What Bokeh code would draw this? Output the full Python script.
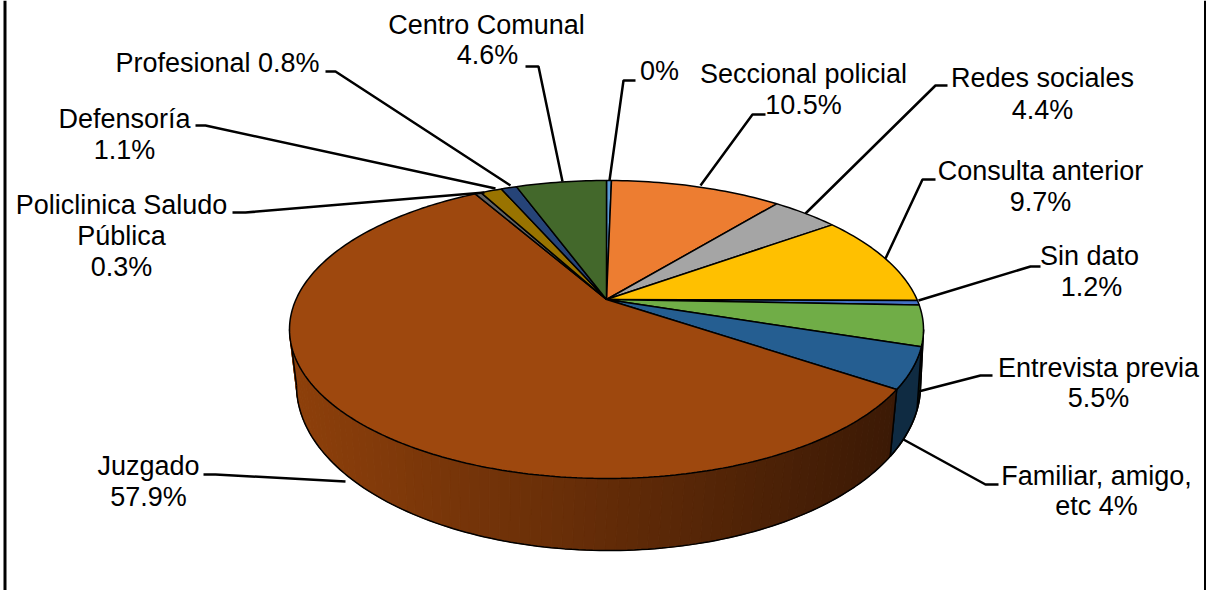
import numpy as np
from bokeh.plotting import figure
from bokeh.models import Range1d, Span
from bokeh.core.properties import value
from bokeh.embed import file_html
from bokeh.resources import INLINE

# --- data ---
categories = ["0%", "Seccional policial", "Redes sociales", "Consulta anterior", "Sin dato",
              "Entrevista previa", "Familiar, amigo, etc", "Juzgado",
              "Policlinica Saludo Pública", "Defensoría", "Profesional", "Centro Comunal"]
values = [0.3, 10.5, 4.4, 9.7, 1.2, 5.5, 4.0, 57.9, 0.3, 1.1, 0.8, 4.6]
colors = ["#5B9BD5", "#ED7D31", "#A5A5A5", "#FFC000", "#4472C4", "#70AD47",
          "#255E91", "#9E480E", "#636363", "#997300", "#264478", "#43682B"]
wall_colors = {5: "#2C451C", 6: "#0F2B42"}

# --- label layout: text, centre x, centre y ---
label_lines = [
    ("Centro Comunal", 486, 24), ("4.6%", 487, 54),
    ("Profesional 0.8%", 217, 62),
    ("0%", 659, 70),
    ("Seccional policial", 803, 73), ("10.5%", 803, 104),
    ("Redes sociales", 1042, 77), ("4.4%", 1042, 109),
    ("Consulta anterior", 1040, 170), ("9.7%", 1040, 201),
    ("Sin dato", 1089, 255), ("1.2%", 1091, 286),
    ("Entrevista previa", 1098, 367), ("5.5%", 1098, 397),
    ("Familiar, amigo,", 1096, 475), ("etc 4%", 1096, 505),
    ("Juzgado", 148, 465), ("57.9%", 148, 496),
    ("Defensoría", 124, 118), ("1.1%", 124, 149),
    ("Policlinica Saludo", 121, 204), ("Pública", 121, 235), ("0.3%", 121, 266),
]
leader_paths = [
    [(609, 180), (623, 80), (635, 80)],
    [(700, 185), (752, 114), (765, 114)],
    [(805, 213), (935, 85), (947, 85)],
    [(885, 258), (922, 179), (935, 179)],
    [(918, 300), (1030, 266), (1040, 266)],
    [(918, 391), (980, 375), (992, 375)],
    [(903, 439), (985, 484), (998, 484)],
    [(345, 481), (215, 474), (203, 474)],
    [(484, 192), (245, 212), (232, 212)],
    [(495, 188), (205, 125), (195, 125)],
    [(510, 185), (335, 71), (325, 71)],
    [(562, 181), (538, 66), (525, 66)],
]

# --- projection of the tilted pie on the page ---
APEX = (606, 299)
TOP = (606, 329, 317, 149)      # centre x, centre y, semi-axes of the upper face
BOTTOM = (608, 385, 312, 165)   # same for the lower rim
# perspective: true angle -> parameter along the ellipse (degrees)
ANGLE_IN = [0, 38.9, 54.7, 89.6, 94, 113.8, 128, 336.6, 360]
ANGLE_OUT = [0, 32.6, 45.5, 79, 80.7, 97, 114, 336.6, 360]


def warp(a):
    return np.interp(a, ANGLE_IN, ANGLE_OUT)


def rim(t, e):
    r = np.radians(t)
    return e[0] + e[2] * np.sin(r), e[1] - e[3] * np.cos(r)


def low(t):
    # the lower rim is slightly skewed against the upper one
    return np.minimum(t + 2 * (270 - t) / 180, 270)


p = figure(width=1206, height=590, x_range=Range1d(0, 1206), y_range=Range1d(590, 0),
           x_axis_type=None, y_axis_type=None, toolbar_location=None,
           output_backend="svg", min_border=0, outline_line_color=None,
           background_fill_color="white", border_fill_color="white")
p.grid.visible = False
p.styles = {"margin-left": "0px", "margin-top": "0px"}

fracs = np.array(values) / sum(values) * 360
ends = np.cumsum(fracs)
starts = ends - fracs
t0 = warp(starts)
t1 = warp(ends)

# side wall: the visible part of the rim is between parameters 90 and 270
for i in range(len(values)):
    a, b = max(t0[i], 90), min(t1[i], 270)
    if b <= a:
        continue
    if i in wall_colors:
        ts = np.linspace(a, b, 12)
        xt, yt = rim(ts, TOP)
        xb, yb = rim(low(ts[::-1]), BOTTOM)
        p.patch(np.r_[xt, xb], np.r_[yt, yb], fill_color=wall_colors[i],
                line_color="black", line_width=1.5)
    else:
        # shaded wall: gradient from left (lit) to right (dark)
        edges = np.arange(a, b + 2, 2.0)
        edges[-1] = b
        for u, v in zip(edges[:-1], edges[1:]):
            ts = np.linspace(u, v, 3)
            xt, yt = rim(ts, TOP)
            xb, yb = rim(low(ts[::-1]), BOTTOM)
            xm = (xt.mean() - 289) / (923 - 289)
            c0, c1 = np.array([0x8E, 0x40, 0x0B]), np.array([0x38, 0x18, 0x05])
            c = (c0 + (c1 - c0) * np.clip(xm, 0, 1)).astype(int)
            col = "#%02x%02x%02x" % tuple(int(k) for k in c)
            p.patch(np.r_[xt, xb], np.r_[yt, yb], fill_color=col, line_color=col, line_width=1)
# rim outline
xb, yb = rim(low(np.linspace(90, 270, 140)), BOTTOM)
p.line(xb, yb, line_color="black", line_width=1.5)
for t in (90.0, 270.0):
    xa, ya = rim(np.array([t]), TOP)
    xc, yc = rim(low(np.array([t])), BOTTOM)
    p.line([xa[0], xc[0]], [ya[0], yc[0]], line_color="black", line_width=1.5)
# blue / brown wall seam
xa, ya = rim(np.array([t0[7]]), TOP)
xc, yc = rim(low(np.array([t0[7]])), BOTTOM)
p.line([xa[0], xc[0]], [ya[0], yc[0]], line_color="black", line_width=1.5)

# upper face
for i in range(len(values)):
    n = max(int(t1[i] - t0[i]) + 3, 4)
    ts = np.linspace(t0[i], t1[i], n)
    x, y = rim(ts, TOP)
    p.patch(np.r_[APEX[0], x], np.r_[APEX[1], y], fill_color=colors[i],
            line_color="black", line_width=1.5)

# leaders
for path in leader_paths:
    p.line([q[0] for q in path], [q[1] for q in path], line_color="black", line_width=2.5)

# labels
p.text([q[1] for q in label_lines], [q[2] for q in label_lines], text=[q[0] for q in label_lines],
       text_font=value("Liberation Sans"), text_font_size="27px", text_color="black",
       text_align="center", text_baseline="middle")

# frame
p.add_layout(Span(location=4.5, dimension="height", line_color="black", line_width=3))
p.add_layout(Span(location=1205, dimension="height", line_color="black", line_width=3))

open("out.html", "w").write(file_html(p, INLINE))
